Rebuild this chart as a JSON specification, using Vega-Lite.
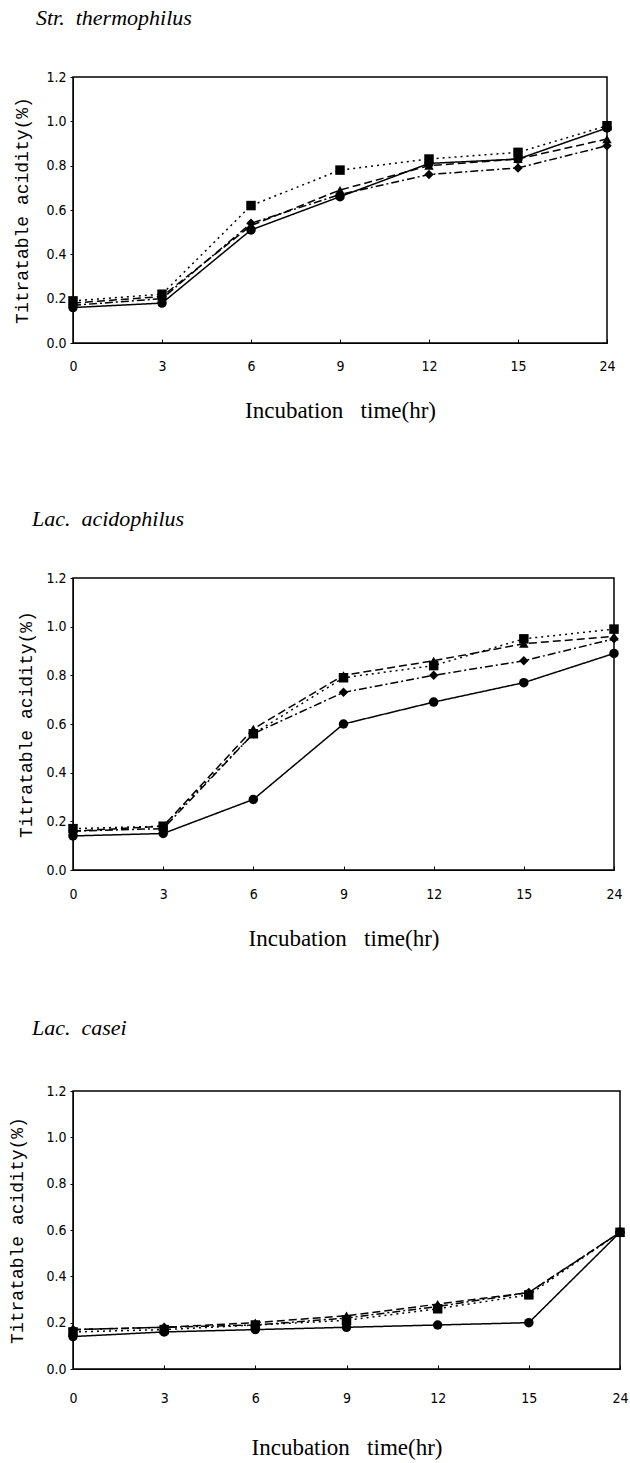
{
  "$schema": "https://vega.github.io/schema/vega-lite/v6.json",
  "background": "white",
  "padding": {"left": 8, "top": 6, "right": 0, "bottom": 0},
  "spacing": 84,
  "datasets": {
    "acid": [
      {"panel": "Str. thermophilus", "series": "A", "time": 0, "acid": 0.16},
      {"panel": "Str. thermophilus", "series": "A", "time": 3, "acid": 0.18},
      {"panel": "Str. thermophilus", "series": "A", "time": 6, "acid": 0.51},
      {"panel": "Str. thermophilus", "series": "A", "time": 9, "acid": 0.66},
      {"panel": "Str. thermophilus", "series": "A", "time": 12, "acid": 0.81},
      {"panel": "Str. thermophilus", "series": "A", "time": 15, "acid": 0.83},
      {"panel": "Str. thermophilus", "series": "A", "time": 24, "acid": 0.97},
      {"panel": "Str. thermophilus", "series": "B", "time": 0, "acid": 0.19},
      {"panel": "Str. thermophilus", "series": "B", "time": 3, "acid": 0.22},
      {"panel": "Str. thermophilus", "series": "B", "time": 6, "acid": 0.62},
      {"panel": "Str. thermophilus", "series": "B", "time": 9, "acid": 0.78},
      {"panel": "Str. thermophilus", "series": "B", "time": 12, "acid": 0.83},
      {"panel": "Str. thermophilus", "series": "B", "time": 15, "acid": 0.86},
      {"panel": "Str. thermophilus", "series": "B", "time": 24, "acid": 0.98},
      {"panel": "Str. thermophilus", "series": "C", "time": 0, "acid": 0.18},
      {"panel": "Str. thermophilus", "series": "C", "time": 3, "acid": 0.21},
      {"panel": "Str. thermophilus", "series": "C", "time": 6, "acid": 0.53},
      {"panel": "Str. thermophilus", "series": "C", "time": 9, "acid": 0.69},
      {"panel": "Str. thermophilus", "series": "C", "time": 12, "acid": 0.80},
      {"panel": "Str. thermophilus", "series": "C", "time": 15, "acid": 0.83},
      {"panel": "Str. thermophilus", "series": "C", "time": 24, "acid": 0.92},
      {"panel": "Str. thermophilus", "series": "D", "time": 0, "acid": 0.17},
      {"panel": "Str. thermophilus", "series": "D", "time": 3, "acid": 0.20},
      {"panel": "Str. thermophilus", "series": "D", "time": 6, "acid": 0.54},
      {"panel": "Str. thermophilus", "series": "D", "time": 9, "acid": 0.67},
      {"panel": "Str. thermophilus", "series": "D", "time": 12, "acid": 0.76},
      {"panel": "Str. thermophilus", "series": "D", "time": 15, "acid": 0.79},
      {"panel": "Str. thermophilus", "series": "D", "time": 24, "acid": 0.89},

      {"panel": "Lac. acidophilus", "series": "A", "time": 0, "acid": 0.14},
      {"panel": "Lac. acidophilus", "series": "A", "time": 3, "acid": 0.15},
      {"panel": "Lac. acidophilus", "series": "A", "time": 6, "acid": 0.29},
      {"panel": "Lac. acidophilus", "series": "A", "time": 9, "acid": 0.60},
      {"panel": "Lac. acidophilus", "series": "A", "time": 12, "acid": 0.69},
      {"panel": "Lac. acidophilus", "series": "A", "time": 15, "acid": 0.77},
      {"panel": "Lac. acidophilus", "series": "A", "time": 24, "acid": 0.89},
      {"panel": "Lac. acidophilus", "series": "B", "time": 0, "acid": 0.17},
      {"panel": "Lac. acidophilus", "series": "B", "time": 3, "acid": 0.18},
      {"panel": "Lac. acidophilus", "series": "B", "time": 6, "acid": 0.56},
      {"panel": "Lac. acidophilus", "series": "B", "time": 9, "acid": 0.79},
      {"panel": "Lac. acidophilus", "series": "B", "time": 12, "acid": 0.84},
      {"panel": "Lac. acidophilus", "series": "B", "time": 15, "acid": 0.95},
      {"panel": "Lac. acidophilus", "series": "B", "time": 24, "acid": 0.99},
      {"panel": "Lac. acidophilus", "series": "C", "time": 0, "acid": 0.16},
      {"panel": "Lac. acidophilus", "series": "C", "time": 3, "acid": 0.18},
      {"panel": "Lac. acidophilus", "series": "C", "time": 6, "acid": 0.58},
      {"panel": "Lac. acidophilus", "series": "C", "time": 9, "acid": 0.80},
      {"panel": "Lac. acidophilus", "series": "C", "time": 12, "acid": 0.86},
      {"panel": "Lac. acidophilus", "series": "C", "time": 15, "acid": 0.93},
      {"panel": "Lac. acidophilus", "series": "C", "time": 24, "acid": 0.96},
      {"panel": "Lac. acidophilus", "series": "D", "time": 0, "acid": 0.16},
      {"panel": "Lac. acidophilus", "series": "D", "time": 3, "acid": 0.17},
      {"panel": "Lac. acidophilus", "series": "D", "time": 6, "acid": 0.56},
      {"panel": "Lac. acidophilus", "series": "D", "time": 9, "acid": 0.73},
      {"panel": "Lac. acidophilus", "series": "D", "time": 12, "acid": 0.80},
      {"panel": "Lac. acidophilus", "series": "D", "time": 15, "acid": 0.86},
      {"panel": "Lac. acidophilus", "series": "D", "time": 24, "acid": 0.95},

      {"panel": "Lac. casei", "series": "A", "time": 0, "acid": 0.14},
      {"panel": "Lac. casei", "series": "A", "time": 3, "acid": 0.16},
      {"panel": "Lac. casei", "series": "A", "time": 6, "acid": 0.17},
      {"panel": "Lac. casei", "series": "A", "time": 9, "acid": 0.18},
      {"panel": "Lac. casei", "series": "A", "time": 12, "acid": 0.19},
      {"panel": "Lac. casei", "series": "A", "time": 15, "acid": 0.20},
      {"panel": "Lac. casei", "series": "A", "time": 24, "acid": 0.59},
      {"panel": "Lac. casei", "series": "B", "time": 0, "acid": 0.16},
      {"panel": "Lac. casei", "series": "B", "time": 3, "acid": 0.17},
      {"panel": "Lac. casei", "series": "B", "time": 6, "acid": 0.19},
      {"panel": "Lac. casei", "series": "B", "time": 9, "acid": 0.21},
      {"panel": "Lac. casei", "series": "B", "time": 12, "acid": 0.26},
      {"panel": "Lac. casei", "series": "B", "time": 15, "acid": 0.32},
      {"panel": "Lac. casei", "series": "B", "time": 24, "acid": 0.59},
      {"panel": "Lac. casei", "series": "C", "time": 0, "acid": 0.17},
      {"panel": "Lac. casei", "series": "C", "time": 3, "acid": 0.18},
      {"panel": "Lac. casei", "series": "C", "time": 6, "acid": 0.20},
      {"panel": "Lac. casei", "series": "C", "time": 9, "acid": 0.23},
      {"panel": "Lac. casei", "series": "C", "time": 12, "acid": 0.28},
      {"panel": "Lac. casei", "series": "C", "time": 15, "acid": 0.33},
      {"panel": "Lac. casei", "series": "C", "time": 24, "acid": 0.59},
      {"panel": "Lac. casei", "series": "D", "time": 0, "acid": 0.17},
      {"panel": "Lac. casei", "series": "D", "time": 3, "acid": 0.18},
      {"panel": "Lac. casei", "series": "D", "time": 6, "acid": 0.19},
      {"panel": "Lac. casei", "series": "D", "time": 9, "acid": 0.22},
      {"panel": "Lac. casei", "series": "D", "time": 12, "acid": 0.27},
      {"panel": "Lac. casei", "series": "D", "time": 15, "acid": 0.33},
      {"panel": "Lac. casei", "series": "D", "time": 24, "acid": 0.59}
    ]
  },
  "data": {"name": "acid"},
  "config": {
    "view": {"stroke": "black", "strokeWidth": 1.5},
    "title": {"font": "Liberation Serif", "fontStyle": "italic", "fontWeight": "normal", "fontSize": 22, "anchor": "start", "color": "black", "offset": 40},
    "axis": {
      "domainColor": "black", "tickColor": "black", "grid": false,
      "labelFont": "Liberation Sans Narrow, DejaVu Sans Condensed, DejaVu Sans", "labelFontSize": 14, "labelColor": "black",
      "titleColor": "black", "titleFontWeight": "normal"
    },
    "axisX": {"labelAngle": 0, "tickSize": -4, "titleFont": "Liberation Serif", "titleFontSize": 23},
    "axisY": {"tickSize": 3, "labelPadding": 4, "titleFont": "Liberation Mono", "titleFontSize": 18}
  },
  "vconcat": [
    {
      "title": {"text": "Str.\u00a0\u00a0thermophilus", "dx": 22},
      "width": 534, "height": 266,
      "transform": [{"filter": "datum.panel === 'Str. thermophilus'"}],
      "encoding": {
        "x": {"field": "time", "type": "ordinal", "scale": {"type": "point", "padding": 0}, "axis": {"title": "Incubation\u00a0\u00a0\u00a0time(hr)", "labelPadding": 20, "titlePadding": 26}},
        "y": {"field": "acid", "type": "quantitative", "scale": {"domain": [0, 1.2]}, "axis": {"title": "Titratable acidity(%)", "titlePadding": 14, "values": [0, 0.2, 0.4, 0.6, 0.8, 1.0, 1.2], "format": ".1f"}}
      },
      "layer": [
        {"mark": {"type": "line", "color": "black", "strokeWidth": 1.5},
         "encoding": {"detail": {"field": "series"}, "strokeDash": {"field": "series", "type": "nominal", "scale": {"domain": ["A", "B", "C", "D"], "range": [[1, 0], [2, 4], [8, 4], [8, 3, 2, 3]]}, "legend": null}}},
        {"mark": {"type": "point", "filled": true, "color": "black", "opacity": 1, "size": 90},
         "encoding": {"shape": {"field": "series", "type": "nominal", "scale": {"domain": ["A", "B", "C", "D"], "range": ["circle", "square", "triangle-up", "diamond"]}, "legend": null}}}
      ]
    },
    {
      "spacing": 65,
      "vconcat": [
        {
          "title": {"text": "Lac.\u00a0\u00a0acidophilus", "dx": 14},
          "width": 541, "height": 292,
          "transform": [{"filter": "datum.panel === 'Lac. acidophilus'"}],
          "encoding": {
            "x": {"field": "time", "type": "ordinal", "scale": {"type": "point", "padding": 0}, "axis": {"title": "Incubation\u00a0\u00a0\u00a0time(hr)", "labelPadding": 21, "titlePadding": 26}},
            "y": {"field": "acid", "type": "quantitative", "scale": {"domain": [0, 1.2]}, "axis": {"title": "Titratable acidity(%)", "titlePadding": 10, "values": [0, 0.2, 0.4, 0.6, 0.8, 1.0, 1.2], "format": ".1f"}}
          },
          "layer": [
            {"mark": {"type": "line", "color": "black", "strokeWidth": 1.5},
             "encoding": {"detail": {"field": "series"}, "strokeDash": {"field": "series", "type": "nominal", "scale": {"domain": ["A", "B", "C", "D"], "range": [[1, 0], [2, 4], [8, 4], [8, 3, 2, 3]]}, "legend": null}}},
            {"mark": {"type": "point", "filled": true, "color": "black", "opacity": 1, "size": 90},
             "encoding": {"shape": {"field": "series", "type": "nominal", "scale": {"domain": ["A", "B", "C", "D"], "range": ["circle", "square", "triangle-up", "diamond"]}, "legend": null}}}
          ]
        },
        {
          "title": {"text": "Lac.\u00a0\u00a0casei", "offset": 44, "dx": 23},
          "width": 547, "height": 278,
          "transform": [{"filter": "datum.panel === 'Lac. casei'"}],
          "encoding": {
            "x": {"field": "time", "type": "ordinal", "scale": {"type": "point", "padding": 0}, "axis": {"title": "Incubation\u00a0\u00a0\u00a0time(hr)", "labelPadding": 26, "titlePadding": 31}},
            "y": {"field": "acid", "type": "quantitative", "scale": {"domain": [0, 1.2]}, "axis": {"title": "Titratable acidity(%)", "titlePadding": 19, "values": [0, 0.2, 0.4, 0.6, 0.8, 1.0, 1.2], "format": ".1f"}}
          },
          "layer": [
            {"mark": {"type": "line", "color": "black", "strokeWidth": 1.5},
             "encoding": {"detail": {"field": "series"}, "strokeDash": {"field": "series", "type": "nominal", "scale": {"domain": ["A", "B", "C", "D"], "range": [[1, 0], [2, 4], [8, 4], [8, 3, 2, 3]]}, "legend": null}}},
            {"mark": {"type": "point", "filled": true, "color": "black", "opacity": 1, "size": 90},
             "encoding": {"shape": {"field": "series", "type": "nominal", "scale": {"domain": ["A", "B", "C", "D"], "range": ["circle", "square", "triangle-up", "diamond"]}, "legend": null}}}
          ]
        }
      ]
    }
  ]
}
